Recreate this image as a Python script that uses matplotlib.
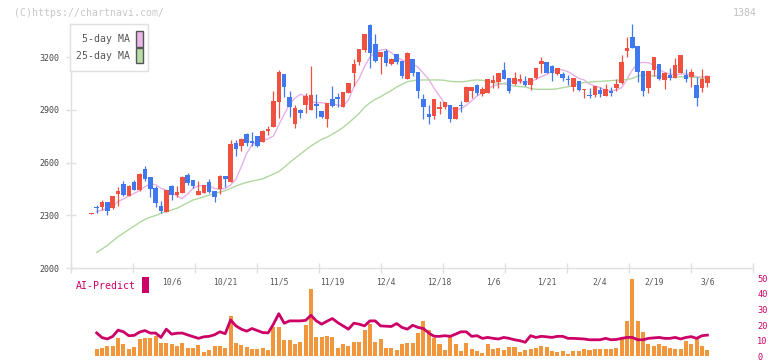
import numpy as np
import matplotlib
matplotlib.use("Agg")
from matplotlib import pyplot as plt
from matplotlib.patches import Rectangle

# ローソク足データ (index 0..115)
opens = [2310, 2347, 2346, 2375, 2341, 2424, 2479, 2411, 2490, 2445,
         2564, 2519, 2456, 2354, 2322, 2468, 2418, 2430, 2530, 2502,
         2416, 2430, 2490, 2441, 2451, 2524, 2492, 2712, 2697, 2763,
         2725, 2752, 2720, 2778, 2805, 2947, 3104, 2971, 2818, 2899,
         2930, 2901, 2934, 2894, 2850, 2962, 2973, 2915, 2998, 3112,
         3172, 3240, 3382, 3274, 3199, 3235, 3161, 3218, 3180, 3076,
         3189, 3115, 2960, 2877, 2865, 2907, 2918, 2928, 2850, 2927,
         2947, 3009, 3040, 2990, 2998, 3055, 3060, 3127, 3083, 3047,
         3066, 3066, 3042, 3083, 3161, 3172, 3150, 3104, 3104, 3074,
         3032, 3064, 3015, 2983, 2985, 3013, 2981, 3009, 3023, 3051,
         3235, 3316, 3263, 3121, 3026, 3127, 3161, 3070, 3098, 3083,
         3112, 3098, 3089, 3041, 3024, 3055]
highs = [2313, 2360, 2388, 2375, 2411, 2464, 2496, 2471, 2502, 2543,
         2581, 2519, 2468, 2384, 2447, 2473, 2468, 2525, 2543, 2502,
         2496, 2471, 2507, 2441, 2530, 2524, 2729, 2729, 2740, 2770,
         2776, 2752, 2784, 2808, 3007, 3127, 3104, 3007, 2928, 2907,
         2998, 3149, 2990, 2894, 2939, 3036, 2998, 3004, 3053, 3191,
         3246, 3331, 3388, 3331, 3229, 3244, 3197, 3218, 3180, 3229,
         3189, 3115, 2990, 2928, 2962, 2951, 2947, 2928, 2918, 2951,
         3036, 3030, 3047, 3032, 3076, 3098, 3112, 3172, 3083, 3115,
         3106, 3093, 3083, 3138, 3200, 3172, 3157, 3136, 3117, 3098,
         3081, 3064, 3019, 3023, 3036, 3032, 3047, 3032, 3074, 3212,
         3316, 3388, 3263, 3121, 3121, 3199, 3161, 3117, 3140, 3197,
         3212, 3132, 3132, 3089, 3132, 3093]
lows = [2310, 2312, 2331, 2303, 2335, 2354, 2411, 2411, 2445, 2441,
        2498, 2407, 2350, 2312, 2322, 2388, 2406, 2430, 2473, 2454,
        2416, 2430, 2430, 2379, 2422, 2464, 2492, 2640, 2668, 2695,
        2695, 2690, 2715, 2757, 2805, 2856, 2971, 2862, 2799, 2856,
        2884, 2901, 2856, 2856, 2805, 2915, 2915, 2915, 2998, 3038,
        3155, 3229, 3140, 3174, 3106, 3151, 3153, 3163, 3083, 3076,
        3093, 2970, 2848, 2818, 2848, 2877, 2907, 2833, 2850, 2890,
        2947, 2970, 2983, 2979, 2998, 3026, 3026, 3078, 2998, 3040,
        3051, 3038, 3013, 3074, 3112, 3112, 3066, 3098, 3064, 3041,
        3009, 3007, 2970, 2970, 2975, 2975, 2981, 2979, 3009, 3047,
        3202, 3252, 3060, 2981, 2994, 3093, 3070, 3019, 3070, 3083,
        3108, 3060, 3032, 2922, 3003, 3032]
closes = [2312, 2345, 2375, 2327, 2411, 2439, 2416, 2468, 2445, 2536,
          2505, 2449, 2373, 2325, 2447, 2418, 2433, 2521, 2483, 2468,
          2439, 2471, 2435, 2407, 2524, 2507, 2706, 2680, 2735, 2712,
          2714, 2695, 2780, 2790, 2951, 3115, 3032, 2918, 2911, 2884,
          2979, 2983, 2922, 2862, 2939, 2922, 2964, 3004, 3053, 3161,
          3246, 3331, 3225, 3180, 3229, 3168, 3187, 3172, 3093, 3225,
          3112, 3009, 2918, 2862, 2962, 2918, 2947, 2850, 2918, 2924,
          3030, 3030, 2998, 3019, 3076, 3070, 3112, 3078, 3009, 3083,
          3078, 3042, 3083, 3138, 3178, 3112, 3108, 3136, 3081, 3070,
          3081, 3013, 3019, 2981, 3036, 2990, 3019, 2998, 3047, 3172,
          3252, 3252, 3117, 3009, 3121, 3199, 3074, 3112, 3081, 3155,
          3212, 3076, 3117, 2969, 3076, 3093]

# 出来高 (index 0..115)
volume = [0, 4.7, 5.4, 6.6, 6.6, 11.7, 7.9, 4.7, 6.0, 11.1,
          11.7, 11.7, 13.0, 8.5, 8.5, 7.9, 6.6, 8.5, 5.4, 5.4,
          7.3, 2.9, 4.1, 6.6, 6.6, 5.4, 25.6, 8.5, 7.3, 6.0,
          4.7, 4.7, 5.4, 4.1, 18.7, 18.7, 10.4, 10.4, 7.9, 9.2,
          19.9, 43.4, 12.3, 12.3, 13.0, 12.3, 5.4, 7.9, 6.6, 9.2,
          9.2, 16.8, 20.6, 9.2, 11.1, 5.4, 5.4, 4.1, 7.9, 8.5,
          8.5, 14.9, 22.5, 16.8, 11.7, 7.9, 4.1, 12.3, 7.9, 3.5,
          8.5, 4.7, 3.5, 2.2, 7.9, 4.7, 5.4, 4.1, 6.0, 6.0,
          2.9, 4.1, 4.7, 5.4, 6.6, 6.0, 3.5, 2.9, 3.5, 1.6,
          3.5, 3.5, 4.7, 4.1, 4.7, 4.7, 4.7, 4.7, 5.4, 11.1,
          22.5, 49.7, 22.5, 15.5, 7.9, 6.6, 7.9, 6.6, 5.4, 4.7,
          4.7, 9.8, 7.9, 11.1, 6.6, 4.1]

# 移動平均 (index 1..115)
ma5 = [2322, 2331, 2341, 2354, 2379, 2394, 2411, 2426, 2441, 2464,
       2479, 2475, 2454, 2445, 2430, 2411, 2397, 2422, 2454, 2469,
       2471, 2468, 2454, 2449, 2454, 2473, 2507, 2577, 2653, 2701,
       2723, 2729, 2735, 2752, 2815, 2875, 2930, 2968, 2988, 2980,
       2947, 2941, 2941, 2937, 2933, 2928, 2922, 2956, 3032, 3079,
       3146, 3199, 3231, 3240, 3244, 3225, 3200, 3184, 3165, 3161,
       3142, 3108, 3074, 3022, 2979, 2937, 2913, 2899, 2907, 2926,
       2952, 2979, 2998, 3017, 3036, 3045, 3051, 3055, 3070, 3060,
       3057, 3060, 3074, 3089, 3102, 3118, 3130, 3127, 3117, 3098,
       3079, 3070, 3047, 3036, 3026, 3013, 3009, 3013, 3026, 3074,
       3127, 3165, 3170, 3168, 3155, 3130, 3113, 3104, 3098, 3104,
       3104, 3098, 3089, 3085, 3093]
ma25 = [2090, 2110, 2130, 2155, 2180, 2200, 2220, 2240, 2260, 2278,
        2290, 2300, 2312, 2322, 2332, 2341, 2357, 2372, 2388, 2397,
        2406, 2416, 2424, 2433, 2441, 2454, 2467, 2479, 2488, 2495,
        2502, 2508, 2522, 2535, 2549, 2574, 2600, 2625, 2648, 2672,
        2695, 2714, 2733, 2745, 2762, 2780, 2800, 2825, 2852, 2880,
        2915, 2940, 2960, 2975, 2993, 3010, 3030, 3045, 3060, 3066,
        3070, 3070, 3070, 3070, 3070, 3068, 3062, 3060, 3060, 3062,
        3068, 3070, 3068, 3062, 3055, 3051, 3048, 3042, 3036, 3032,
        3030, 3022, 3017, 3017, 3017, 3017, 3020, 3026, 3032, 3040,
        3051, 3055, 3058, 3060, 3062, 3064, 3066, 3068, 3070, 3072,
        3079, 3092, 3098, 3096, 3093, 3091, 3088, 3085, 3086, 3088,
        3089, 3087, 3084, 3081, 3079]

# AI-Predict (index 1..115)
ai_predict = [15.0, 12.0, 11.1, 12.8, 16.8, 15.7, 13.2, 13.4, 15.5, 16.5,
              14.9, 14.9, 12.1, 17.4, 14.2, 14.8, 14.9, 13.7, 12.6, 11.5,
              12.5, 12.8, 13.8, 15.7, 14.5, 23.3, 19.5, 17.4, 16.1, 17.8,
              16.5, 15.2, 15.0, 20.6, 27.3, 21.2, 22.7, 22.7, 22.7, 23.0,
              26.3, 22.7, 20.6, 22.5, 24.2, 21.6, 19.5, 17.4, 21.2, 20.6,
              19.5, 22.7, 22.7, 19.5, 19.3, 19.1, 21.0, 18.5, 17.4, 19.9,
              18.5, 17.8, 14.9, 12.8, 12.8, 13.2, 12.8, 14.2, 15.7, 15.7,
              12.8, 13.2, 11.5, 12.1, 11.5, 11.1, 12.1, 11.5, 10.6, 10.0,
              9.0, 13.2, 12.1, 12.8, 12.5, 12.1, 12.8, 12.8, 11.5, 11.5,
              11.3, 11.1, 10.6, 10.6, 10.6, 11.5, 10.6, 10.8, 11.5, 12.1,
              12.1, 10.6, 10.6, 11.5, 11.8, 12.1, 11.5, 11.5, 12.1, 11.1,
              12.1, 12.6, 11.5, 13.2, 13.6]

date_labels = ["10/6", "10/21", "11/5", "11/19", "12/4", "12/18",
               "1/6", "1/21", "2/4", "2/19", "3/6"]
date_pos = [15, 25, 35, 45, 55, 65, 75, 85, 95, 105, 115]

price_ticks = [2000, 2300, 2600, 2900, 3200]
ai_ticks = [0, 10, 20, 30, 40, 50]

RED = "#f05040"
BLUE = "#4078f0"
MONO = "DejaVu Sans Mono"
W, H = 772, 361


def fx(px):
    return px / W


def fy(py):
    return 1 - py / H


fig = plt.figure(figsize=(W / 100, H / 100), dpi=100)
fig.patch.set_facecolor("white")

# 出来高・AI-Predict (下段)
axv = fig.add_axes([fx(71), fy(356.3), 682 / W, 78 / H])
axv.patch.set_visible(False)
x = np.arange(len(opens))
xm = np.arange(1, len(opens))
axv.bar(x, volume, width=0.75, color="#f0963c", linewidth=0)
axv.plot(xm, ai_predict, color="#cc0066", linewidth=2)

# メインチャート
ax = fig.add_axes([fx(71), fy(268.3), 682 / W, 244.3 / H])
ax.patch.set_visible(False)
o = np.array(opens)
c = np.array(closes)
colors = [RED if cc >= oo else BLUE for oo, cc in zip(o, c)]
ax.vlines(x, lows, highs, colors=colors, linewidth=0.9, zorder=2)
body = np.maximum(np.abs(c - o), 5)
ax.bar(x, body, bottom=np.minimum(o, c), width=0.85, color=colors,
       linewidth=0, zorder=3)

ax.plot(xm, ma5, color="#e8b0e8", linewidth=1.0, zorder=1)
ax.plot(xm, ma25, color="#b0d8a0", linewidth=1.0, zorder=1)

xlim = (-3.79, 123.52)
ax.set_xlim(*xlim)
ax.set_ylim(2000, 3388)
for s in ["top", "right"]:
    ax.spines[s].set_visible(False)
for s in ["left", "bottom"]:
    ax.spines[s].set_color("#e0e0e0")
    ax.spines[s].set_linewidth(1)
ax.set_yticks(price_ticks)
ax.set_yticklabels([str(v) for v in price_ticks], family=MONO, fontsize=6,
                   color="#444444")
ax.set_xticks(np.linspace(xlim[0], xlim[1], 12))
ax.set_xticklabels([])
ax.tick_params(axis="both", direction="inout", length=7, width=1,
               color="#e0e0e0", pad=5)
for lab, p in zip(date_labels, date_pos):
    ax.text(p, -0.056, lab, transform=ax.get_xaxis_transform(), ha="center",
            va="center", family=MONO, fontsize=5.8, color="#555555",
            clip_on=False)

axv.set_xlim(*xlim)
axv.set_ylim(0, 50)
for s in axv.spines.values():
    s.set_visible(False)
axv.set_xticks([])
axv.yaxis.tick_right()
axv.set_yticks(ai_ticks)
axv.set_yticklabels([str(v) for v in ai_ticks], family=MONO, fontsize=6.2,
                    color="#cc0066")
axv.tick_params(axis="y", length=0, pad=3)

# 凡例・テキスト
fig.text(fx(14), fy(12.5), "(C)https://chartnavi.com/", family=MONO,
         fontsize=7.1, color="#c8c8c8", va="center")
fig.text(fx(757), fy(12.5), "1384", family=MONO, fontsize=7.1,
         color="#c0c0c0", va="center", ha="right")

fig.patches.append(Rectangle((fx(70.3), fy(71)), 78 / W, 47 / H,
                             transform=fig.transFigure, facecolor="white",
                             edgecolor="#e0e0e0", linewidth=1, zorder=5))
fig.patches.append(Rectangle((fx(136), fy(46.7)), 6.7 / W, 15.7 / H,
                             transform=fig.transFigure, facecolor="#e8b8e8",
                             edgecolor="#555555", linewidth=1, zorder=6))
fig.patches.append(Rectangle((fx(136), fy(63.3)), 6.7 / W, 15 / H,
                             transform=fig.transFigure, facecolor="#b8dca8",
                             edgecolor="#555555", linewidth=1, zorder=6))
fig.text(fx(129.5), fy(39), "5-day MA", family=MONO, fontsize=7.1,
         color="#555555", va="center", ha="right", zorder=7)
fig.text(fx(129.5), fy(56), "25-day MA", family=MONO, fontsize=7.1,
         color="#555555", va="center", ha="right", zorder=7)

fig.text(fx(76), fy(286), "AI-Predict", family=MONO, fontsize=7.1,
         color="#cc0066", va="center", ha="left")
fig.patches.append(Rectangle((fx(142.3), fy(292.7)), 6.4 / W, 15.7 / H,
                             transform=fig.transFigure, facecolor="#cc0066",
                             edgecolor="none", zorder=5))

fig.savefig("out.png", dpi=100)
